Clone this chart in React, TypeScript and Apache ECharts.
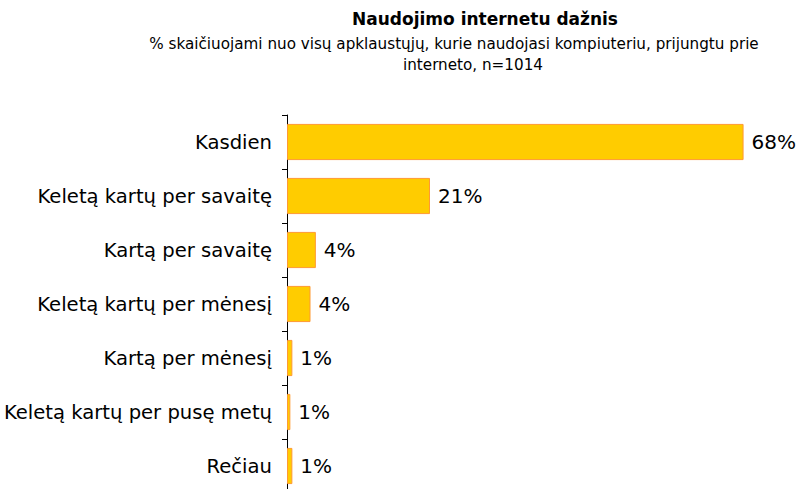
import React, { useEffect, useRef } from "react";
import * as echarts from "echarts";

const categories = [
  "Kasdien",
  "Keletą kartų per savaitę",
  "Kartą per savaitę",
  "Keletą kartų per mėnesį",
  "Kartą per mėnesį",
  "Keletą kartų per pusę metų",
  "Rečiau",
];
const values = [68, 21.3, 4.3, 3.5, 0.8, 0.5, 0.8];
const labels = ["68%", "21%", "4%", "4%", "1%", "1%", "1%"];

const titleText = "Naudojimo internetu dažnis";
const subLine1 = "% skaičiuojami nuo visų apklaustųjų, kurie naudojasi kompiuteriu, prijungtu prie";
const subLine2 = "interneto, n=1014";

export default function App() {
  const ref = useRef<HTMLDivElement>(null);
  useEffect(() => {
    if (!ref.current) return;
    const chart = echarts.init(ref.current, null, { renderer: "svg" });
    const font = "DejaVu Sans, Verdana, sans-serif";
    chart.setOption({
      animation: false,
      backgroundColor: "#ffffff",
      textStyle: { fontFamily: font },
      graphic: [
        {
          type: "text",
          x: 485,
          y: 19,
          style: {
            text: titleText,
            textAlign: "center",
            textVerticalAlign: "middle",
            font: "bold 17px " + font,
            fill: "#000",
          },
        },
        {
          type: "text",
          x: 454,
          y: 44,
          style: {
            text: subLine1,
            textAlign: "center",
            textVerticalAlign: "middle",
            font: "15.2px " + font,
            fill: "#000",
          },
        },
        {
          type: "text",
          x: 473,
          y: 65,
          style: {
            text: subLine2,
            textAlign: "center",
            textVerticalAlign: "middle",
            font: "15.2px " + font,
            fill: "#000",
          },
        },
      ],
      grid: {
        left: 287,
        top: 115,
        width: 470,
        height: 378,
        containLabel: false,
        outerBoundsMode: "none",
      },
      xAxis: {
        type: "value",
        min: 0,
        max: 70,
        show: false,
      },
      yAxis: {
        type: "category",
        data: categories,
        inverse: true,
        axisLine: { show: true, lineStyle: { color: "#000", width: 1 } },
        axisTick: { show: true, length: 5, lineStyle: { color: "#000" } },
        axisLabel: {
          color: "#000",
          fontSize: 19.6,
          fontFamily: font,
          margin: 15,
        },
      },
      series: [
        {
          type: "bar",
          data: values,
          barCategoryGap: "33%",
          itemStyle: { color: "#FFCC00", borderColor: "#FF9933", borderWidth: 1 },
          label: {
            show: true,
            position: "right",
            distance: 8,
            color: "#000",
            fontSize: 20,
            fontFamily: font,
            formatter: (p: any) => labels[p.dataIndex],
          },
        },
      ],
    });
    return () => chart.dispose();
  }, []);
  return <div ref={ref} style={{ width: 807, height: 489, position: "absolute", left: 0, top: 0 }} />;
}
